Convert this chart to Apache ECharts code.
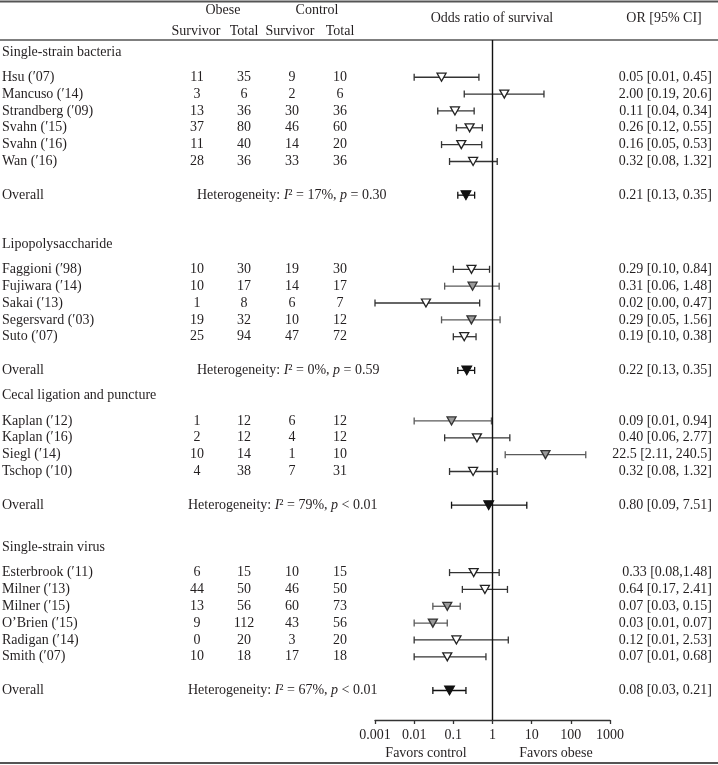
<!DOCTYPE html>
<html><head><meta charset="utf-8">
<script src="https://cdn.jsdelivr.net/npm/echarts@6/dist/echarts.min.js"></script>
<style>html,body{margin:0;padding:0;background:#fff}#c{width:718px;height:765px}</style>
</head><body><div id="c"></div>
<script>
// ---------------- DATA ----------------
const groupNames = ['Single-strain bacteria', 'Lipopolysaccharide', 'Cecal ligation and puncture', 'Single-strain virus'];
const studyGroup = [0,0,0,0,0,0, 1,1,1,1,1, 2,2,2,2, 3,3,3,3,3,3];
const studyNames = [
  'Hsu (\u203207)', 'Mancuso (\u203214)', 'Strandberg (\u203209)', 'Svahn (\u203215)', 'Svahn (\u203216)', 'Wan (\u203216)',
  'Faggioni (\u203298)', 'Fujiwara (\u203214)', 'Sakai (\u203213)', 'Segersvard (\u203203)', 'Suto (\u203207)',
  'Kaplan (\u203212)', 'Kaplan (\u203216)', 'Siegl (\u203214)', 'Tschop (\u203210)',
  'Esterbrook (\u203211)', 'Milner (\u203213)', 'Milner (\u203215)', 'O\u2019Brien (\u203215)', 'Radigan (\u203214)', 'Smith (\u203207)'
];
const obeseSurvivor   = [11, 3, 13, 37, 11, 28,  10, 10, 1, 19, 25,  1, 2, 10, 4,  6, 44, 13, 9, 0, 10];
const obeseTotal      = [35, 6, 36, 80, 40, 36,  30, 17, 8, 32, 94,  12, 12, 14, 38,  15, 50, 56, 112, 20, 18];
const controlSurvivor = [9, 2, 30, 46, 14, 33,  19, 14, 6, 10, 47,  6, 4, 1, 7,  10, 46, 60, 43, 3, 17];
const controlTotal    = [10, 6, 36, 60, 20, 36,  30, 17, 7, 12, 72,  12, 12, 10, 31,  15, 50, 73, 56, 20, 18];
const studyOR = [0.05, 2.00, 0.11, 0.26, 0.16, 0.32,  0.29, 0.31, 0.02, 0.29, 0.19,  0.09, 0.40, 22.5, 0.32,  0.33, 0.64, 0.07, 0.03, 0.12, 0.07];
const studyLo = [0.01, 0.19, 0.04, 0.12, 0.05, 0.08,  0.10, 0.06, 0.001, 0.05, 0.10,  0.01, 0.06, 2.11, 0.08,  0.08, 0.17, 0.03, 0.01, 0.01, 0.01];
const studyHi = [0.45, 20.6, 0.34, 0.55, 0.53, 1.32,  0.84, 1.48, 0.47, 1.56, 0.38,  0.94, 2.77, 240.5, 1.32,  1.48, 2.41, 0.15, 0.07, 2.53, 0.68];
const studyLabels = [
  '0.05 [0.01, 0.45]', '2.00 [0.19, 20.6]', '0.11 [0.04, 0.34]', '0.26 [0.12, 0.55]', '0.16 [0.05, 0.53]', '0.32 [0.08, 1.32]',
  '0.29 [0.10, 0.84]', '0.31 [0.06, 1.48]', '0.02 [0.00, 0.47]', '0.29 [0.05, 1.56]', '0.19 [0.10, 0.38]',
  '0.09 [0.01, 0.94]', '0.40 [0.06, 2.77]', '22.5 [2.11, 240.5]', '0.32 [0.08, 1.32]',
  '0.33 [0.08,1.48]', '0.64 [0.17, 2.41]', '0.07 [0.03, 0.15]', '0.03 [0.01, 0.07]', '0.12 [0.01, 2.53]', '0.07 [0.01, 0.68]'
];
const overallOR = [0.21, 0.22, 0.80, 0.08];
const overallLo = [0.13, 0.13, 0.09, 0.03];
const overallHi = [0.35, 0.35, 7.51, 0.21];
const overallLabels = ['0.21 [0.13, 0.35]', '0.22 [0.13, 0.35]', '0.80 [0.09, 7.51]', '0.08 [0.03, 0.21]'];
const hetI2 = ['17%', '0%', '79%', '67%'];
const hetP = ['= 0.30', '= 0.59', '< 0.01', '< 0.01'];
const axisTicks = [0.001, 0.01, 0.1, 1, 10, 100, 1000];

// ---------------- LAYOUT / STYLE ----------------
const FONT = '"Liberation Serif", "DejaVu Serif", serif';
const FS = 14;
const TXT = '#231f20';
const shadedStudies = new Set([7, 9, 11, 13, 17, 18]);
const sectionGap = [0.71, 2.9, 1.5, 2.5];
const hetX = [197, 197, 188, 188];

const rows = [];
let pos = 0;
for (let g = 0; g < groupNames.length; g++) {
  pos += sectionGap[g];
  rows.push({ kind: 'head', g: g, y: pos });
  pos += 1.5;
  for (let i = 0; i < studyNames.length; i++) {
    if (studyGroup[i] !== g) continue;
    rows.push({ kind: 'study', i: i, y: pos });
    pos += 1;
  }
  pos += 1;
  rows.push({ kind: 'overall', g: g, y: pos });
}

const studyRows = rows.filter(r => r.kind === 'study');
const overallRows = rows.filter(r => r.kind === 'overall');

const barData = [];
studyRows.forEach(r => barData.push({ value: [studyLo[r.i], studyHi[r.i], r.y], shaded: shadedStudies.has(r.i), ov: false }));
overallRows.forEach(r => barData.push({ value: [overallLo[r.g], overallHi[r.g], r.y], shaded: false, ov: true }));

const openPts = studyRows.filter(r => !shadedStudies.has(r.i)).map(r => [studyOR[r.i], r.y]);
const greyPts = studyRows.filter(r => shadedStudies.has(r.i)).map(r => [studyOR[r.i], r.y]);
const overallPts = overallRows.map(r => [overallOR[r.g], r.y]);

function txt(text, x, y, align, extra) {
  return Object.assign({
    type: 'text',
    style: { text: text, x: x, y: y, align: align || 'left', verticalAlign: 'middle',
      fontFamily: FONT, fontSize: FS, fill: TXT }
  }, extra || {});
}

const chart = echarts.init(document.getElementById('c'), null, { renderer: 'canvas' });
chart.setOption({
  animation: false,
  backgroundColor: '#fff',
  grid: { left: 375, right: 108, top: 40, bottom: 45 },
  xAxis: {
    type: 'log', logBase: 10, min: 0.001, max: 1000, splitNumber: 6, position: 'bottom',
    axisLine: { show: true, onZero: false, lineStyle: { color: '#333', width: 1.3 } },
    axisTick: { show: true, length: 4, lineStyle: { color: '#333', width: 1.3 } },
    splitLine: { show: false },
    axisLabel: {
      fontFamily: FONT, fontSize: FS, color: TXT, margin: 8,
      formatter: v => {
        const t = axisTicks.find(a => Math.abs(Math.log10(a) - Math.log10(v)) < 1e-6);
        return t !== undefined ? String(t) : '';
      }
    }
  },
  yAxis: { type: 'value', min: 0, max: 40.36, inverse: true, show: false },
  graphic: [
    { type: 'line', shape: { x1: 0, y1: 1.5, x2: 718, y2: 1.5 }, style: { stroke: '#555', lineWidth: 2 } },
    { type: 'line', shape: { x1: 0, y1: 40, x2: 718, y2: 40 }, style: { stroke: '#555', lineWidth: 1.5 } },
    { type: 'line', shape: { x1: 0, y1: 763, x2: 718, y2: 763 }, style: { stroke: '#555', lineWidth: 2 } },
    txt('Obese', 223, 10, 'center'),
    txt('Control', 317, 10, 'center'),
    txt('Survivor', 196, 31, 'center'),
    txt('Total', 244, 31, 'center'),
    txt('Survivor', 290, 31, 'center'),
    txt('Total', 340, 31, 'center'),
    txt('Odds ratio of survival', 492, 18, 'center'),
    txt('OR [95% CI]', 664, 18, 'center'),
    txt('Favors control', 426, 753, 'center'),
    txt('Favors obese', 556, 753, 'center')
  ],
  series: [
    {
      type: 'custom', name: 'ci', clip: false,
      data: barData,
      renderItem: function (params, api) {
        const d = barData[params.dataIndex];
        const p1 = api.coord([api.value(0), api.value(2)]);
        const p2 = api.coord([api.value(1), api.value(2)]);
        const h = 3.5;
        const st = { stroke: d.ov ? '#111' : (d.shaded ? '#5a5a5a' : '#333'), lineWidth: 1.3 };
        return { type: 'group', children: [
          { type: 'line', shape: { x1: p1[0], y1: p1[1], x2: p2[0], y2: p2[1] }, style: st },
          { type: 'line', shape: { x1: p1[0], y1: p1[1] - h, x2: p1[0], y2: p1[1] + h }, style: st },
          { type: 'line', shape: { x1: p2[0], y1: p2[1] - h, x2: p2[0], y2: p2[1] + h }, style: st }
        ] };
      }
    },
    {
      type: 'scatter', name: 'open', data: openPts, symbol: 'triangle', symbolRotate: 180, symbolSize: [9, 8],
      itemStyle: { color: '#fff', borderColor: '#222', borderWidth: 1.3, opacity: 1 },
      markLine: {
        silent: true, symbol: 'none', label: { show: false },
        lineStyle: { color: '#111', width: 1.4, type: 'solid' },
        data: [{ xAxis: 1 }]
      }
    },
    {
      type: 'scatter', name: 'grey', data: greyPts, symbol: 'triangle', symbolRotate: 180, symbolSize: [9, 8],
      itemStyle: { color: '#9a9a9a', borderColor: '#333', borderWidth: 1.3, opacity: 1 }
    },
    {
      type: 'scatter', name: 'overall', data: overallPts, symbol: 'triangle', symbolRotate: 180, symbolSize: [10, 9],
      itemStyle: { color: '#111', borderColor: '#111', borderWidth: 1, opacity: 1 }
    },
    {
      type: 'custom', name: 'table', clip: false, silent: true,
      data: rows.map(r => [1, r.y]),
      renderItem: function (params, api) {
        const r = rows[params.dataIndex];
        const y = api.coord([1, api.value(1)])[1];
        const ch = [];
        if (r.kind === 'head') {
          ch.push(txt(groupNames[r.g], 2, y, 'left'));
        } else if (r.kind === 'study') {
          const i = r.i;
          ch.push(txt(studyNames[i], 2, y, 'left'));
          ch.push(txt(String(obeseSurvivor[i]), 197, y, 'center'));
          ch.push(txt(String(obeseTotal[i]), 244, y, 'center'));
          ch.push(txt(String(controlSurvivor[i]), 292, y, 'center'));
          ch.push(txt(String(controlTotal[i]), 340, y, 'center'));
          ch.push(txt(studyLabels[i], 712, y, 'right'));
        } else {
          const g = r.g;
          ch.push(txt('Overall', 2, y, 'left'));
          ch.push({ type: 'text', style: {
            text: 'Heterogeneity: {i|I}\u00b2 = ' + hetI2[g] + ', {i|p} ' + hetP[g],
            x: hetX[g], y: y, align: 'left', verticalAlign: 'middle',
            fontFamily: FONT, fontSize: FS, fill: TXT,
            rich: { i: { fontFamily: FONT, fontSize: FS, fontStyle: 'italic', fill: TXT } }
          } });
          ch.push(txt(overallLabels[g], 712, y, 'right'));
        }
        return { type: 'group', children: ch };
      }
    }
  ]
});
</script></body></html>
